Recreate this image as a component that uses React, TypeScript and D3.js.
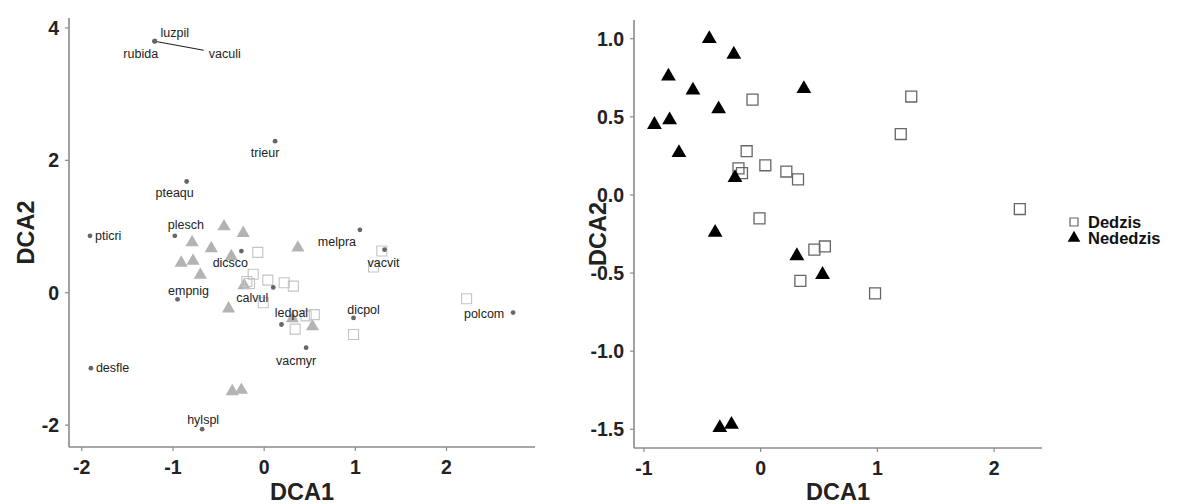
import React, { useEffect, useRef } from 'react';
import * as d3 from 'd3';

// site scores (DCA1, DCA2)
const dedzisX = [-0.07, -0.12, -0.19, -0.16, 0.04, 0.22, 0.32, -0.01, 0.46, 0.55, 0.34, 0.98, 1.2, 1.29, 2.22];
const dedzisY = [0.61, 0.28, 0.17, 0.14, 0.19, 0.15, 0.1, -0.15, -0.35, -0.33, -0.55, -0.63, 0.39, 0.63, -0.09];
const nededzisX = [-0.91, -0.79, -0.78, -0.7, -0.58, -0.44, -0.36, -0.23, -0.22, 0.37, -0.39, 0.31, 0.53, -0.35, -0.25];
const nededzisY = [0.45, 0.76, 0.48, 0.27, 0.67, 1.0, 0.55, 0.9, 0.11, 0.68, -0.24, -0.39, -0.51, -1.49, -1.47];

// species scores
const species = ['luzpil', 'rubida', 'vaculi', 'trieur', 'pteaqu', 'pticri', 'plesch', 'dicsco', 'empnig', 'calvul', 'ledpal', 'melpra', 'vacvit', 'dicpol', 'polcom', 'vacmyr', 'desfle', 'hylspl'];
const speciesX = [-1.2, -1.2, -1.2, 0.12, -0.85, -1.91, -0.98, -0.25, -0.95, 0.1, 0.19, 1.05, 1.32, 0.98, 2.73, 0.46, -1.9, -0.68];
const speciesY = [3.8, 3.8, 3.8, 2.29, 1.68, 0.86, 0.86, 0.63, -0.1, 0.08, -0.48, 0.95, 0.65, -0.38, -0.3, -0.83, -1.14, -2.06];
// repelled label offsets (px) and anchors
const labelDx = [20, -14, 70, -10, -12, 5, 11, -11, 11, -21, 10, -23, -1, 10, -29, -10, 5, 1];
const labelDy = [-8, 13, 13, 12, 11, 0, -11, 12, -8, 11, -12, 12, 13, -8, 1, 13, 0, -9];
const labelAnchor = ['middle', 'middle', 'middle', 'middle', 'middle', 'start', 'middle', 'middle', 'middle', 'middle', 'middle', 'middle', 'middle', 'middle', 'middle', 'middle', 'start', 'middle'];

const leftXTicks = [-2, -1, 0, 1, 2];
const leftYTicks = [-2, 0, 2, 4];
const rightXTicks = [-1, 0, 1, 2];
const rightYTicks = [-1.5, -1.0, -0.5, 0.0, 0.5, 1.0];
const legendLabels = ['Dedzis', 'Nededzis'];

const FONT = '"Liberation Sans", Arial, sans-serif';

const App = () => {
  const ref = useRef(null);

  useEffect(() => {
    const svg = d3.select(ref.current);
    svg.selectAll('*').remove();

    const tri = (size) => d3.symbol().type(d3.symbolTriangle).size(size)();
    const sq = (size) => d3.symbol().type(d3.symbolSquare).size(size)();

    const drawAxes = (x, y, xTicks, yTicks, yFmt, titleX) => {
      const [x0, x1] = x.range();
      const [y0, y1] = y.range();
      const g = svg.append('g');
      g.append('line').attr('x1', x0).attr('x2', x0).attr('y1', y0).attr('y2', y1)
        .attr('stroke', '#8a8a8a').attr('stroke-width', 1.6);
      g.append('line').attr('x1', x0).attr('x2', x1).attr('y1', y0).attr('y2', y0)
        .attr('stroke', '#8a8a8a').attr('stroke-width', 1.6);
      xTicks.forEach(t => {
        g.append('line').attr('x1', x(t)).attr('x2', x(t)).attr('y1', y0).attr('y2', y0 + 4)
          .attr('stroke', '#8a8a8a').attr('stroke-width', 1.2);
        g.append('text').attr('x', x(t)).attr('y', y0 + 27).attr('text-anchor', 'middle')
          .attr('font-family', FONT).attr('font-weight', 'bold').attr('font-size', 19.5)
          .attr('fill', '#222').text(d3.format('d')(t).replace('−', '-'));
      });
      yTicks.forEach(t => {
        g.append('line').attr('x1', x0 - 4).attr('x2', x0).attr('y1', y(t)).attr('y2', y(t))
          .attr('stroke', '#8a8a8a').attr('stroke-width', 1.2);
        g.append('text').attr('x', x0 - 10).attr('y', y(t) + 7).attr('text-anchor', 'end')
          .attr('font-family', FONT).attr('font-weight', 'bold').attr('font-size', 19.5)
          .attr('fill', '#222').text(yFmt(t).replace('−', '-'));
      });
      g.append('text').attr('x', (x0 + x1) / 2).attr('y', 500).attr('text-anchor', 'middle')
        .attr('font-family', FONT).attr('font-weight', 'bold').attr('font-size', 23.5)
        .attr('fill', '#222').text('DCA1');
      g.append('text').attr('transform', `translate(${titleX},${(y0 + y1) / 2}) rotate(-90)`)
        .attr('text-anchor', 'middle')
        .attr('font-family', FONT).attr('font-weight', 'bold').attr('font-size', 23.5)
        .attr('fill', '#222').text('DCA2');
    };

    // left panel: sites + species
    const xl = d3.scaleLinear().domain([-2.14, 2.97]).range([69, 535]);
    const yl = d3.scaleLinear().domain([-2.33, 4.15]).range([447, 18]);
    drawAxes(xl, yl, leftXTicks, leftYTicks, d3.format('d'), 34);

    const gl = svg.append('g');
    nededzisX.forEach((v, i) => {
      gl.append('path').attr('d', tri(75))
        .attr('transform', `translate(${xl(v)},${yl(nededzisY[i])})`)
        .attr('fill', '#b3b3b3');
    });
    dedzisX.forEach((v, i) => {
      gl.append('path').attr('d', sq(100))
        .attr('transform', `translate(${xl(v)},${yl(dedzisY[i])})`)
        .attr('fill', 'none').attr('stroke', '#c4c4c4').attr('stroke-width', 1.1);
    });
    // segment for the repelled 'vaculi' label
    gl.append('line').attr('x1', xl(speciesX[2])).attr('y1', yl(speciesY[2]))
      .attr('x2', xl(speciesX[2]) + 49).attr('y2', yl(speciesY[2]) + 9)
      .attr('stroke', '#222').attr('stroke-width', 1.1);
    species.forEach((s, i) => {
      gl.append('circle').attr('cx', xl(speciesX[i])).attr('cy', yl(speciesY[i])).attr('r', 2.4)
        .attr('fill', '#666');
    });
    species.forEach((s, i) => {
      gl.append('text').attr('x', xl(speciesX[i]) + labelDx[i]).attr('y', yl(speciesY[i]) + labelDy[i] + 4)
        .attr('text-anchor', labelAnchor[i])
        .attr('font-family', FONT).attr('font-size', 12.5).attr('fill', '#222').text(s);
    });

    // right panel: sites only
    const xr = d3.scaleLinear().domain([-1.085, 2.41]).range([634, 1042]);
    const yr = d3.scaleLinear().domain([-1.62, 1.12]).range([448, 20]);
    drawAxes(xr, yr, rightXTicks, rightYTicks, d3.format('.1f'), 606);

    const gr = svg.append('g');
    dedzisX.forEach((v, i) => {
      gr.append('path').attr('d', sq(120))
        .attr('transform', `translate(${xr(v)},${yr(dedzisY[i])})`)
        .attr('fill', 'none').attr('stroke', '#666').attr('stroke-width', 1.3);
    });
    nededzisX.forEach((v, i) => {
      gr.append('path').attr('d', tri(95))
        .attr('transform', `translate(${xr(v)},${yr(nededzisY[i])})`)
        .attr('fill', '#000');
    });

    // legend
    const lg = svg.append('g').attr('transform', 'translate(1074,222)');
    legendLabels.forEach((lab, i) => {
      const row = lg.append('g').attr('transform', `translate(0,${i * 16})`);
      if (i === 0) {
        row.append('path').attr('d', sq(64)).attr('fill', 'none').attr('stroke', '#666').attr('stroke-width', 1.2);
      } else {
        row.append('path').attr('d', tri(70)).attr('fill', '#000');
      }
      row.append('text').attr('x', 14).attr('y', 6).attr('font-family', FONT)
        .attr('font-weight', 'bold').attr('font-size', 16.5).attr('fill', '#111').text(lab);
    });
  }, []);

  return (
    <svg ref={ref} width={1192} height={504}
      style={{ position: 'absolute', left: 0, top: 0, background: '#fff' }} />
  );
};

export default App;
